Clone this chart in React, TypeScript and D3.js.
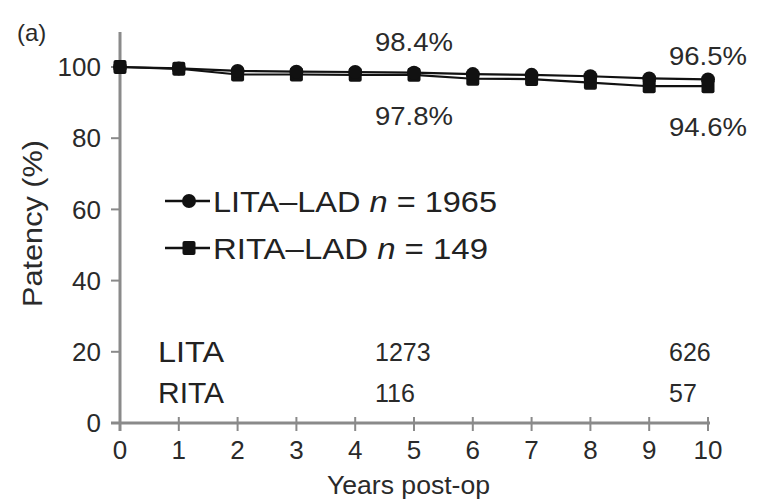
import React from "react";
import * as d3 from "d3";

// Follow-up years
const years = [0, 1, 2, 3, 4, 5, 6, 7, 8, 9, 10];
// Graft patency (%) per year
const litaPatency = [100, 99.6, 98.9, 98.7, 98.6, 98.4, 98.0, 97.8, 97.4, 96.8, 96.5];
const ritaPatency = [100, 99.5, 97.9, 97.9, 97.8, 97.8, 96.7, 96.6, 95.6, 94.6, 94.6];
const yTicks = [0, 20, 40, 60, 80, 100];
const legendLabels = [
  { name: "LITA–LAD", n: "1965", shape: "circle" },
  { name: "RITA–LAD", n: "149", shape: "square" },
];
// Numbers at risk
const riskRows = ["LITA", "RITA"];
const riskYears = [5, 10];
const riskCounts = [
  [1273, 626],
  [116, 57],
];
// Annotated patency values
const pctLabels = [
  { year: 5, value: 98.4, pos: "above" },
  { year: 5, value: 97.8, pos: "below" },
  { year: 10, value: 96.5, pos: "above" },
  { year: 10, value: 94.6, pos: "below" },
];

const W = 761;
const H = 502;
const FONT = "'Liberation Sans', Arial, Helvetica, sans-serif";
const AXIS = "#8a8a8a";
const INK = "#2a2a2a";

export default function App() {
  const x = d3.scaleLinear().domain([0, 10]).range([120, 708]);
  const y = d3.scaleLinear().domain([0, 100]).range([423, 67]);
  const line = d3
    .line<number>()
    .x((_, i) => x(years[i]))
    .y((v) => y(v));

  const drawCircle = (cx: number, cy: number, key: string) => (
    <circle key={key} cx={cx} cy={cy} r={7} fill="#111" />
  );
  const drawSquare = (cx: number, cy: number, key: string) => (
    <rect key={key} x={cx - 6.5} y={cy - 7} width={13} height={14} rx={2} fill="#111" />
  );

  return (
    <svg
      width={W}
      height={H}
      style={{ position: "absolute", left: 0, top: 0, background: "#fff" }}
      fontFamily={FONT}
    >
      <rect width={W} height={H} fill="#fff" />
      <text x={17} y={41} fontSize={24} fill={INK}>
        (a)
      </text>

      {/* axes */}
      <line x1={120} x2={120} y1={32} y2={y(0) + 8} stroke={AXIS} strokeWidth={3} />
      <line x1={111} x2={x(10) + 2} y1={y(0)} y2={y(0)} stroke={AXIS} strokeWidth={3} />
      {yTicks.map((t) => (
        <g key={"y" + t}>
          <line x1={111} x2={120} y1={y(t)} y2={y(t)} stroke={AXIS} strokeWidth={2} />
          <text x={101} y={y(t)} dy="0.35em" textAnchor="end" fontSize={26} fill={INK}>
            {t}
          </text>
        </g>
      ))}
      {years.map((t) => (
        <g key={"x" + t}>
          <line x1={x(t)} x2={x(t)} y1={y(0) - 6} y2={y(0) + 8} stroke={AXIS} strokeWidth={2} />
          <text x={x(t)} y={y(0) + 27} dy="0.35em" textAnchor="middle" fontSize={26} fill={INK}>
            {t}
          </text>
        </g>
      ))}
      <text
        x={327}
        y={494}
        fontSize={26}
        fill={INK}
        textLength={163}
        lengthAdjust="spacingAndGlyphs"
      >
        Years post-op
      </text>
      <text
        transform={`translate(42,307) rotate(-90)`}
        fontSize={28}
        fill={INK}
        textLength={167}
        lengthAdjust="spacingAndGlyphs"
      >
        Patency (%)
      </text>

      {/* series */}
      <path d={line(litaPatency) ?? ""} fill="none" stroke="#111" strokeWidth={2.2} />
      <path d={line(ritaPatency) ?? ""} fill="none" stroke="#111" strokeWidth={2.2} />
      {ritaPatency.map((v, i) => drawSquare(x(years[i]), y(v), "r" + i))}
      {litaPatency.map((v, i) => drawCircle(x(years[i]), y(v), "l" + i))}

      {/* value annotations */}
      {pctLabels.map((p, i) => (
        <text
          key={"p" + i}
          x={x(p.year) - 39}
          y={p.pos === "above" ? y(p.value) - (p.year === 10 ? 24 : 31) : y(p.value) + 41}
          dy="0.35em"
          fontSize={26}
          fill={INK}
          textLength={78}
          lengthAdjust="spacingAndGlyphs"
        >
          {`${p.value.toFixed(1)}%`}
        </text>
      ))}

      {/* legend */}
      {legendLabels.map((l, i) => {
        const ly = 201 + i * 47;
        return (
          <g key={"lg" + i}>
            <line x1={165} x2={210} y1={ly} y2={ly} stroke="#111" strokeWidth={2.5} />
            {l.shape === "circle" ? drawCircle(189, ly, "lc" + i) : drawSquare(189, ly, "ls" + i)}
            <text
              x={213}
              y={ly}
              dy="0.36em"
              fontSize={30}
              fill="#222"
              textLength={i === 0 ? 284 : 275}
              lengthAdjust="spacingAndGlyphs"
            >
              {l.name} <tspan fontStyle="italic">n</tspan> = {l.n}
            </text>
          </g>
        );
      })}

      {/* numbers at risk */}
      {riskRows.map((r, ri) => (
        <g key={"rr" + ri}>
          <text
            x={158}
            y={352 + ri * 41}
            dy="0.35em"
            fontSize={29}
            fill="#222"
            textLength={66}
            lengthAdjust="spacingAndGlyphs"
          >
            {r}
          </text>
          {riskYears.map((yr, ci) => (
            <text key={"rc" + ci} x={x(yr) - 39} y={352 + ri * 41} dy="0.35em" fontSize={25} fill={INK}>
              {riskCounts[ri][ci]}
            </text>
          ))}
        </g>
      ))}
    </svg>
  );
}
